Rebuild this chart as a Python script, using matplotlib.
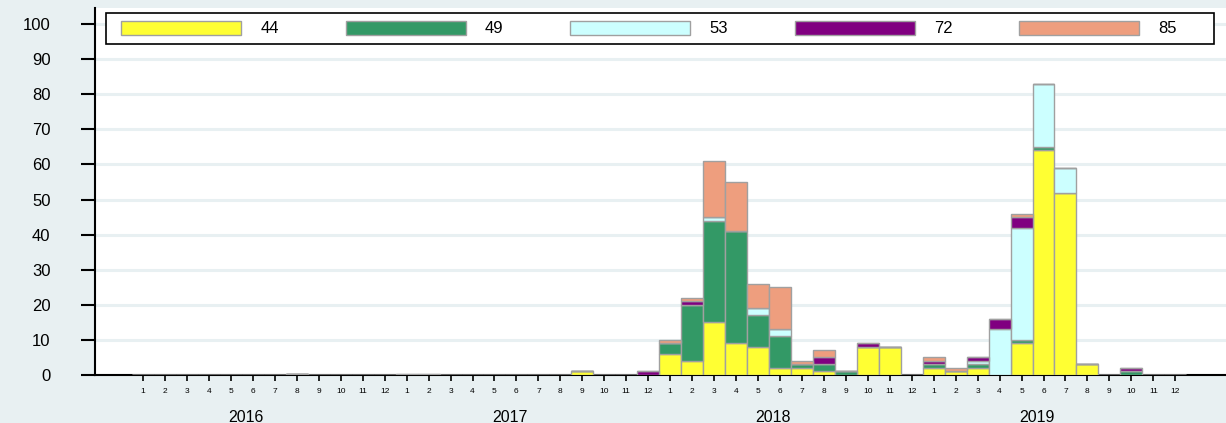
import numpy as np
import matplotlib
matplotlib.use("Agg")
import matplotlib.pyplot as plt
import matplotlib.transforms as mtransforms
from matplotlib.patches import Rectangle

plt.rcParams['font.family'] = ['Liberation Sans', 'DejaVu Sans']

years = [2016, 2017, 2018, 2019]
months = list(range(1, 13))
series_names = ['44', '49', '53', '72', '85']
series_colors = ['#ffff33', '#339966', '#ccffff', '#800080', '#ee9e7e']

# monthly counts, 48 months from 2016-01 to 2019-12
s44 = [0, 0, 0, 0, 0, 0, 0, 0.2, 0, 0, 0, 0,
       0, 0, 0, 0, 0, 0, 0, 0, 1, 0, 0, 0,
       6, 4, 15, 9, 8, 2, 2, 1, 0, 8, 8, 0,
       2, 1, 2, 0, 9, 64, 52, 3, 0, 0, 0, 0]
s49 = [0, 0, 0, 0, 0, 0, 0, 0, 0, 0, 0, 0,
       0, 0, 0, 0, 0, 0, 0, 0, 0, 0, 0, 0,
       3, 16, 29, 32, 9, 9, 1, 2, 1, 0, 0, 0,
       1, 0, 1, 0, 1, 1, 0, 0, 0, 1, 0, 0]
s53 = [0, 0, 0, 0, 0, 0, 0, 0, 0, 0, 0, 0,
       0, 0, 0, 0, 0, 0, 0, 0, 0, 0, 0, 0,
       0, 0, 1, 0, 2, 2, 0, 0, 0, 0, 0, 0,
       0, 0, 1, 13, 32, 18, 7, 0, 0, 0, 0, 0]
s72 = [0, 0, 0, 0, 0, 0, 0, 0, 0, 0, 0, 0,
       0, 0, 0, 0, 0, 0, 0, 0, 0, 0, 0, 1,
       0, 1, 0, 0, 0, 0, 0, 2, 0, 1, 0, 0,
       1, 0, 1, 3, 3, 0, 0, 0, 0, 1, 0, 0]
s85 = [0, 0, 0, 0, 0, 0, 0, 0, 0, 0, 0, 0,
       0.2, 0.2, 0, 0, 0, 0, 0, 0, 0, 0, 0, 0,
       1, 1, 16, 14, 7, 12, 1, 2, 0, 0, 0, 0,
       1, 1, 0, 0, 1, 0, 0, 0, 0, 0, 0, 0]
y_ticks = [0, 10, 20, 30, 40, 50, 60, 70, 80, 90, 100]

W, H = 1226, 423
bg = '#e8f0f2'
fig = plt.figure(figsize=(W / 100, H / 100), dpi=100, facecolor=bg)
ax = fig.add_axes([95 / W, 48 / H, 1 - 95 / W, 367 / H])

x = np.arange(len(years) * len(months))
bottom = np.zeros(len(x))
handles = []
for name, color, vals in zip(series_names, series_colors, [s44, s49, s53, s72, s85]):
    vals = np.asarray(vals, dtype=float)
    b = ax.bar(x, vals, bottom=bottom, width=1.0, color=color,
               edgecolor='#a0a0a0', linewidth=1.0, label=name, zorder=3)
    bottom += vals
    handles.append(b)

ax.set_xlim(-2.19, 49.31)
ax.set_ylim(0, 104.6)

ax.set_yticks(y_ticks)
ax.set_yticklabels([str(v) for v in y_ticks], fontsize=12)
ax.tick_params(axis='y', direction='out', length=10, width=1.5, pad=22)
ax.yaxis.grid(True, color=bg, linewidth=2.2, zorder=0)
ax.set_axisbelow(True)

ax.set_xticks(x)
ax.set_xticklabels([str(m) for _ in years for m in months], fontsize=6)
ax.tick_params(axis='x', direction='out', length=4.5, width=1.2, pad=5)

for s in ['top', 'right']:
    ax.spines[s].set_visible(False)
ax.spines['left'].set_linewidth(1.5)
ax.spines['bottom'].set_linewidth(1.5)

trans = mtransforms.blended_transform_factory(ax.transData, ax.transAxes)
for i, yr in enumerate(years):
    ax.text(i * 12 + 4.7, -0.115, str(yr), transform=trans, ha='center',
            va='center', fontsize=11.5)

# legend box frame (wider on the right than the entries need)
frame = Rectangle((106 / W, (H - 44) / H), 1108 / W, 31 / H,
                  transform=fig.transFigure, facecolor='white',
                  edgecolor='black', linewidth=1.2, zorder=4)
ax.add_patch(frame)
frame.set_clip_on(False)

leg = ax.legend(handles=handles, loc='center left', ncol=5,
                bbox_to_anchor=((121 - 95) / 1131, 1 - (28.5 - 8) / 367),
                fontsize=12, frameon=False,
                handlelength=7.2, handleheight=0.95, handletextpad=1.15,
                columnspacing=4.01, borderpad=0, borderaxespad=0)
leg.set_zorder(5)

fig.savefig('out.png', dpi=100, facecolor=bg)
